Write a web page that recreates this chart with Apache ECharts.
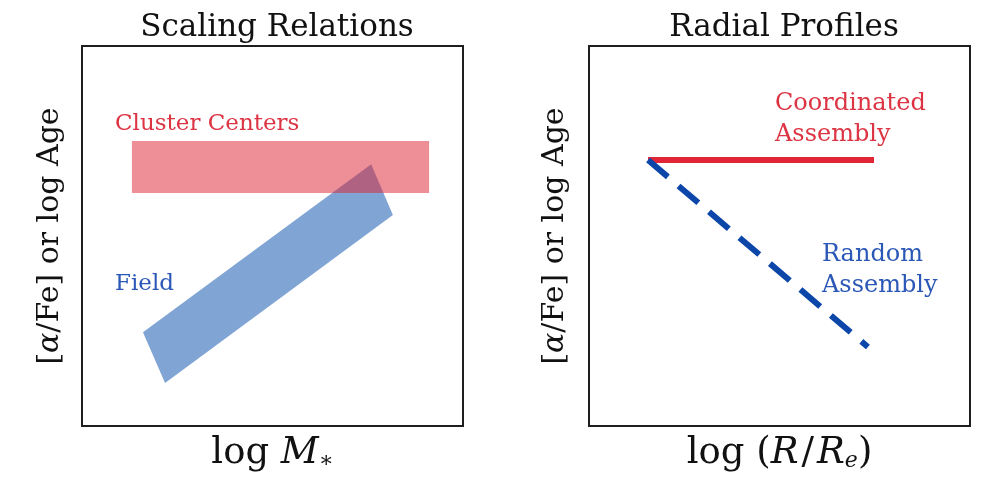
<!DOCTYPE html>
<html>
<head>
<meta charset="utf-8">
<script src="https://cdn.jsdelivr.net/npm/echarts@6/dist/echarts.min.js"></script>
<style>
  html, body { margin: 0; padding: 0; background: #fff; }
  #chart { width: 982px; height: 486px; }
</style>
</head>
<body>
<div id="chart"></div>
<script>
// Schematic axes run 0..10 on both panels (no tick values are shown)
const axisRange = [0, 10];

// Left panel: scaling relations
const clusterBandX = [1.31, 9.11];          // horizontal band, x extent
const clusterBandY = [6.13, 7.50];          // horizontal band, y extent
const fieldBand = [                          // tilted band corners (x, y)
  [1.60, 2.47],
  [2.18, 1.13],
  [8.16, 5.55],
  [7.59, 6.89]
];

// Right panel: radial profiles
const coordinatedX = [1.55, 7.48];
const coordinatedY = [7.00, 7.00];
const randomX = [1.55, 7.32];
const randomY = [7.00, 2.08];

const serif = '"DejaVu Serif", "Liberation Serif", serif';
const ink = '#111';

const chart = echarts.init(document.getElementById('chart'), null, { renderer: 'canvas' });

function nameRich(size, subSize) {
  return {
    n: { fontFamily: serif, fontSize: size, color: ink },
    i: { fontFamily: serif, fontSize: size, color: ink, fontStyle: 'italic' },
    sl: { fontFamily: serif, fontSize: size, color: ink, padding: [0, 3] },
    s: { fontFamily: serif, fontSize: subSize, color: ink, fontStyle: 'italic', verticalAlign: 'bottom' }
  };
}

function axisPair(gridIndex, xName, yName, yGap) {
  const hidden = { show: false };
  return {
    x: {
      type: 'value', gridIndex, min: axisRange[0], max: axisRange[1],
      axisLine: hidden, axisTick: hidden, axisLabel: hidden, splitLine: hidden,
      name: xName, nameLocation: 'middle', nameGap: 9,
      nameTextStyle: { fontFamily: serif, fontSize: 37, color: ink, verticalAlign: 'top', rich: nameRich(37, 22) }
    },
    y: {
      type: 'value', gridIndex, min: axisRange[0], max: axisRange[1],
      axisLine: hidden, axisTick: hidden, axisLabel: hidden, splitLine: hidden,
      name: yName, nameLocation: 'middle', nameGap: yGap,
      nameTextStyle: { fontFamily: serif, fontSize: 30, color: ink, rich: nameRich(30, 18) }
    }
  };
}

const yLabel = '{n|[}{i|α}{n|/Fe] or log Age}';
const left = axisPair(0, '{n|log }{i|M}{s|∗}', yLabel, 17);
const right = axisPair(1, '{n|log (}{i|R}{sl|/}{i|R}{s|e}{n|)}', yLabel, 19);

function polygonItem(corners, fill) {
  return function (params, api) {
    const points = corners.map(function (c) { return api.coord(c); });
    return { type: 'polygon', shape: { points }, style: { fill } };
  };
}

const clusterCorners = [
  [clusterBandX[0], clusterBandY[0]],
  [clusterBandX[1], clusterBandY[0]],
  [clusterBandX[1], clusterBandY[1]],
  [clusterBandX[0], clusterBandY[1]]
];

const gridBox = { show: true, borderColor: '#1e1e1e', borderWidth: 2, backgroundColor: 'transparent' };
const titleStyle = { fontFamily: serif, fontSize: 31, fontWeight: 'normal', color: ink };
const red = '#dc3443';
const blue = '#2b58b6';

function note(text, x, y, size, fill) {
  return { type: 'text', left: x, top: y, style: { text, font: size + 'px ' + serif, fill } };
}

chart.setOption({
  animation: false,
  backgroundColor: '#ffffff',
  title: [
    { text: 'Scaling Relations', left: 272, top: 7, textAlign: 'center', textStyle: titleStyle },
    { text: 'Radial Profiles', left: 779, top: 7, textAlign: 'center', textStyle: titleStyle }
  ],
  grid: [
    Object.assign({ left: 82, top: 46, width: 381, height: 380 }, gridBox),
    Object.assign({ left: 589, top: 46, width: 381, height: 380 }, gridBox)
  ],
  xAxis: [left.x, right.x],
  yAxis: [left.y, right.y],
  series: [
    {
      name: 'Field', type: 'custom', xAxisIndex: 0, yAxisIndex: 0,
      data: [fieldBand[0]], silent: true,
      renderItem: polygonItem(fieldBand, 'rgba(43,105,183,0.6)')
    },
    {
      name: 'Cluster Centers', type: 'custom', xAxisIndex: 0, yAxisIndex: 0,
      data: [clusterCorners[0]], silent: true,
      renderItem: polygonItem(clusterCorners, 'rgba(221,31,47,0.5)')
    },
    {
      name: 'Coordinated Assembly', type: 'line', xAxisIndex: 1, yAxisIndex: 1,
      data: coordinatedX.map(function (x, k) { return [x, coordinatedY[k]]; }),
      showSymbol: false, silent: true,
      lineStyle: { color: '#e02636', width: 6, cap: 'butt' }
    },
    {
      name: 'Random Assembly', type: 'line', xAxisIndex: 1, yAxisIndex: 1,
      data: randomX.map(function (x, k) { return [x, randomY[k]]; }),
      showSymbol: false, silent: true,
      lineStyle: { color: '#0b46a8', width: 6, type: [26, 14], cap: 'butt' }
    }
  ],
  graphic: [
    note('Cluster Centers', 115, 113, 23, red),
    note('Field', 115, 273, 23, blue),
    note('Coordinated', 775, 92, 24, red),
    note('Assembly', 775, 123, 24, red),
    note('Random', 822, 243, 24, blue),
    note('Assembly', 822, 274, 24, blue)
  ]
});
</script>
</body>
</html>
